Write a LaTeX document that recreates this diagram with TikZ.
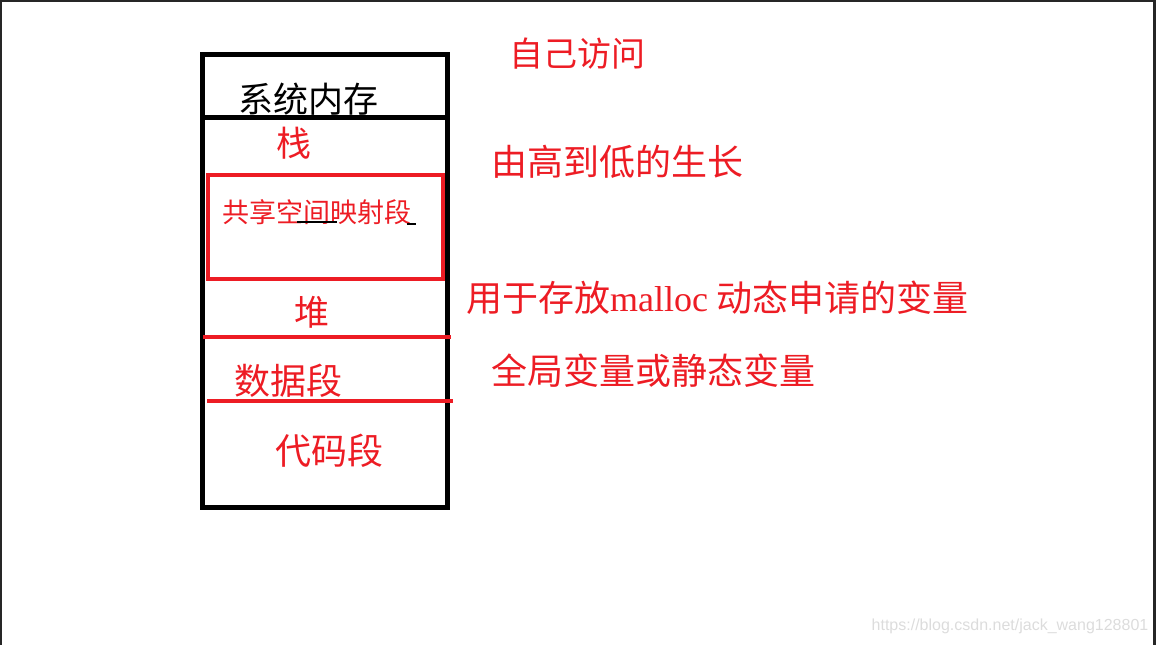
\documentclass[tikz,border=0pt]{standalone}
\usepackage{fontspec}
\setmainfont{Liberation Serif}
\newfontfamily\cjk{Noto Sans CJK SC}
\newfontfamily\wmfont{Liberation Sans}
\usetikzlibrary{positioning}
\definecolor{paintred}{HTML}{ED1C24}
\definecolor{framegray}{HTML}{262626}
\definecolor{markgray}{HTML}{DCDCDC}

\begin{document}
\begin{tikzpicture}[x=1pt,y=-1pt,
		seg/.style={text=paintred,inner sep=0pt,font=\cjk\fontsize{35}{35}\selectfont},
		note/.style={seg,anchor=west,font=\cjk\fontsize{36}{36}\selectfont}]
		\useasboundingbox (0,0) rectangle (1156,645);

		% Window frame
		\draw[framegray,line width=2pt] (0,1) -- (1156,1);
		\draw[framegray,line width=2pt] (1,0) -- (1,645);
		\draw[framegray,line width=3pt] (1154.5,0) -- (1154.5,645);

		% Memory layout box
		\draw[line width=5pt] (202.5,54) rectangle (447,507);
		\draw[line width=5pt] (202.5,117) -- (447,117);

		% Shared mapping region and red separators
		\draw[paintred,line width=4pt] (207.5,175) rectangle (442.5,279);
		\draw[paintred,line width=4.5pt] (203,337) -- (451,337);
		\draw[paintred,line width=4.5pt] (207,401) -- (453,401);

		% Segment labels
		\node[seg,text=black] (sysmem) at (308,99) {系统内存};
		\node[seg] (stack) at (294,143) {栈};
		\node[seg,font=\cjk\fontsize{27}{27}\selectfont] (mmap) at (317,212) {共享空间映射段};
		\node[seg] (heap) at (312,312) {堆};
		\node[seg,font=\cjk\fontsize{36}{36}\selectfont] (data) at (288,381) {数据段};
		\node[seg,font=\cjk\fontsize{36}{36}\selectfont] (text) at (329,451) {代码段};

		% Stray cursor marks
		\draw[line width=1.2pt] (297,222) -- (337,222);
		\draw[line width=1.2pt] (407,224) -- (416,224);

		% Notes on the right
		\node[note,font=\cjk\fontsize{34}{34}\selectfont] (own) at (509,54) {自己访问};
		\node[note] (grow) at (491,162) {由高到低的生长};
		\node[note] (malloc) at (466,298) {用于存放{\rmfamily malloc} 动态申请的变量};
		\node[note] (global) at (491,371) {全局变量或静态变量};

		% Watermark
		\node[text=markgray,inner sep=0pt,font=\wmfont\fontsize{16}{16}\selectfont] (mark) at (1010,626) {https://blog.csdn.net/jack\_wang128801};
	\end{tikzpicture}
\end{document}
